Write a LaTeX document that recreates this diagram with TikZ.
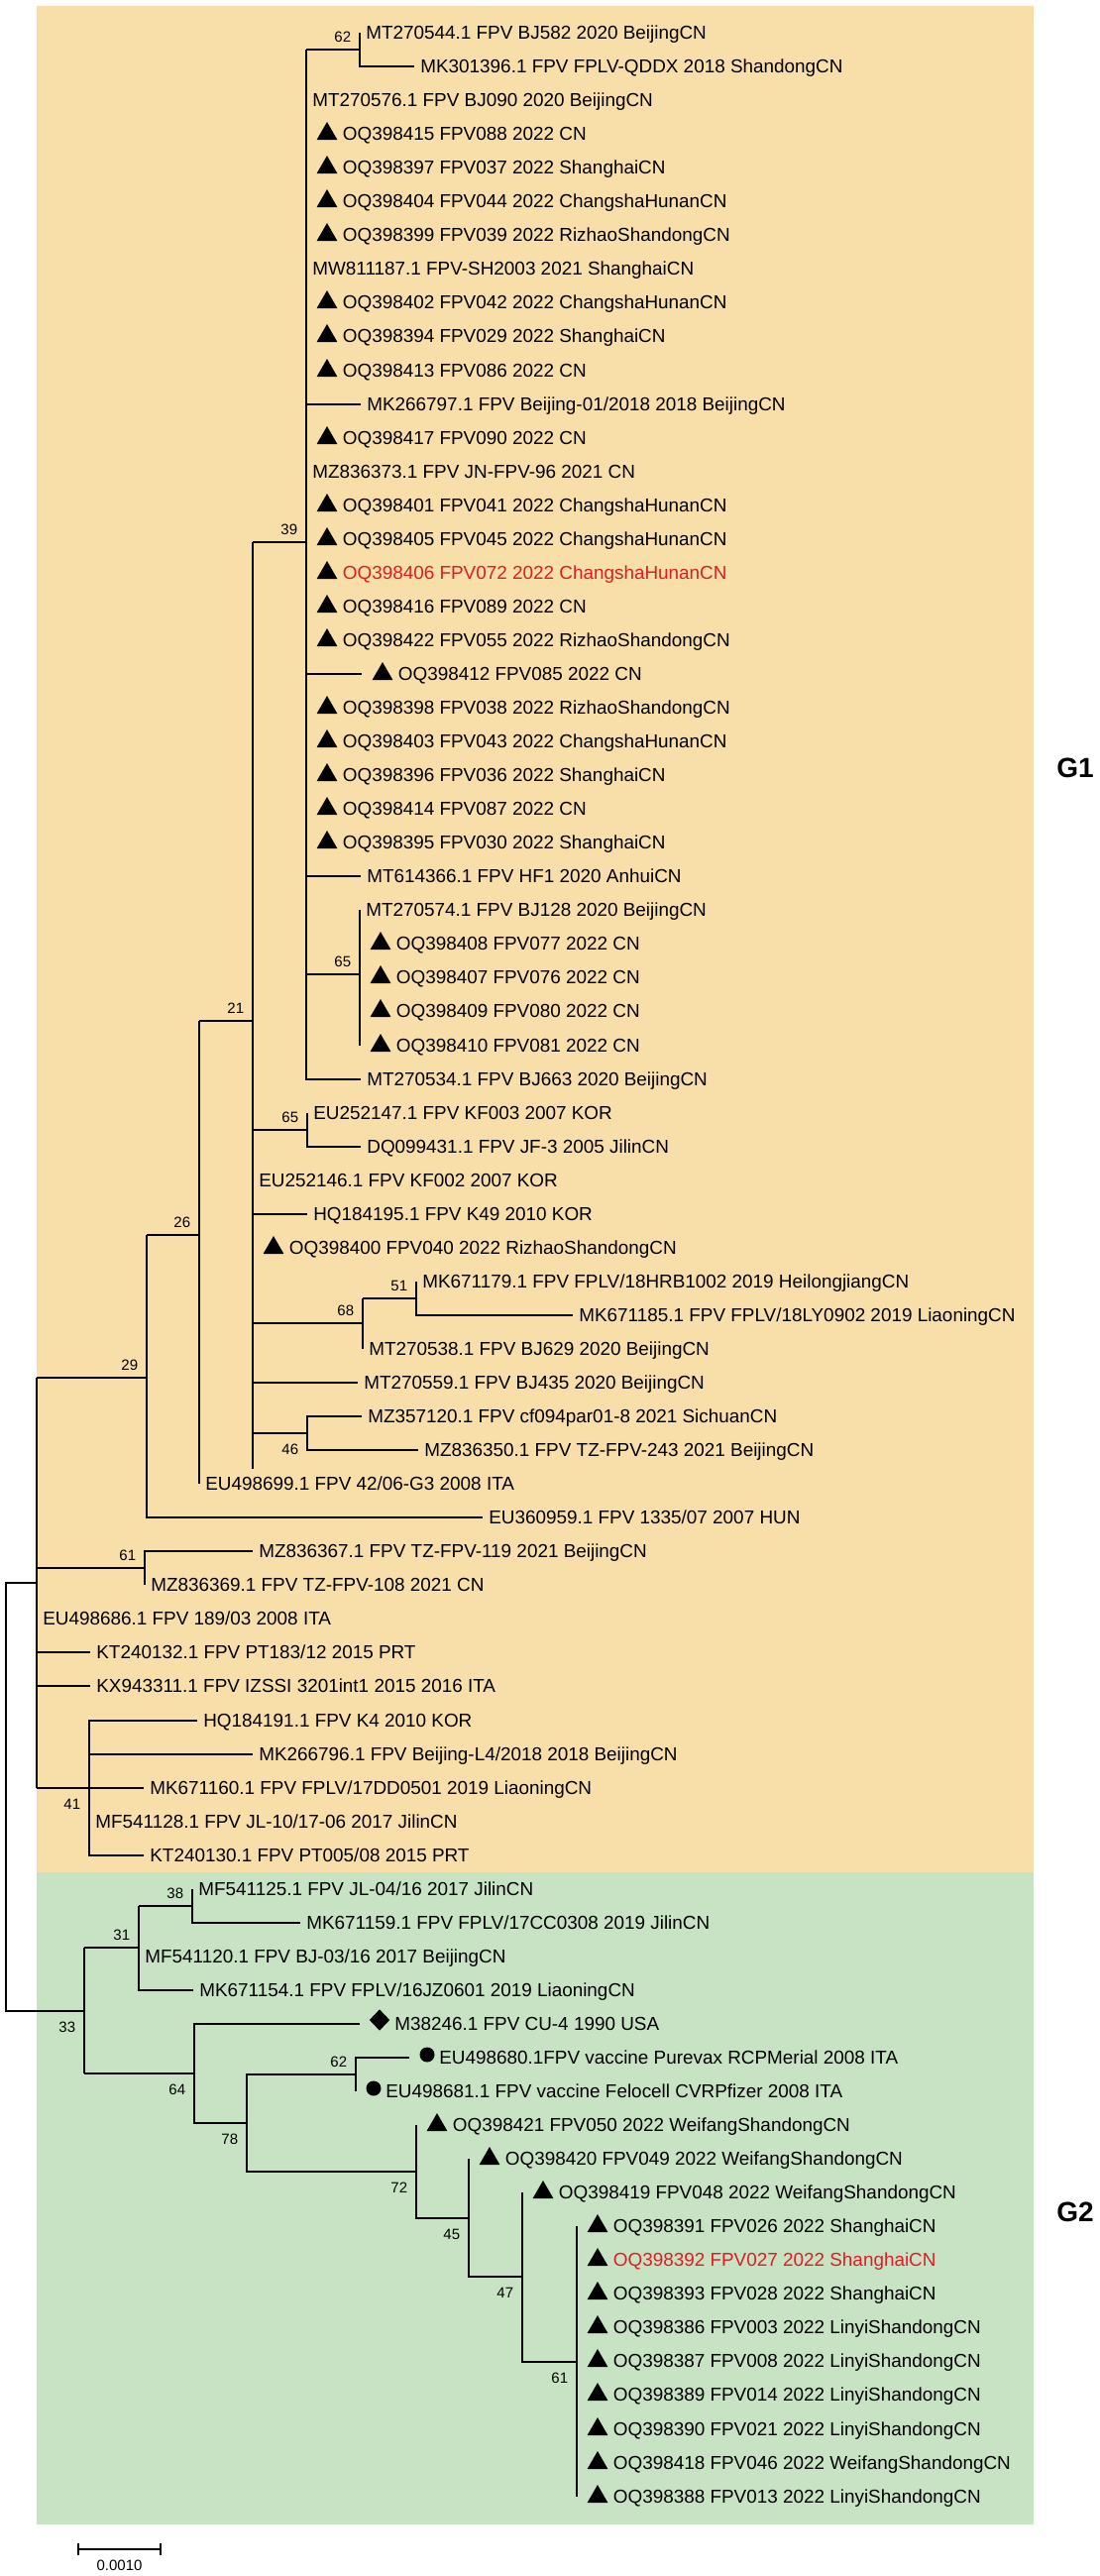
\documentclass[tikz,border=0pt]{standalone}
\usepackage{fontspec}
\setmainfont{Liberation Sans}
\usetikzlibrary{shapes.geometric}
\definecolor{orangebg}{RGB}{248,222,168}
\definecolor{greenbg}{RGB}{200,227,196}
\definecolor{fpvred}{RGB}{222,30,36}
\newcommand{\leaffont}{\fontsize{18.9pt}{21pt}\selectfont}
\newcommand{\bsfont}{\fontsize{15pt}{17pt}\selectfont}
\newcommand{\grpfont}{\fontsize{28pt}{30pt}\selectfont\bfseries}

\begin{document}
\begin{tikzpicture}[
    x=1pt, y=-1pt,
    line width=1.7pt,
    lbl/.style={anchor=base west, inner sep=0pt, xshift=5.5pt, yshift=-6.8pt, font=\leaffont},
    tlbl/.style={lbl, xshift=30.5pt},
    dlbl/.style={lbl, xshift=29pt},
    clbl/.style={lbl, xshift=24pt},
    tri/.style={regular polygon, regular polygon sides=3, fill=black, inner sep=0pt, minimum size=24pt, xshift=21pt},
    dia/.style={diamond, fill=black, inner sep=0pt, minimum width=21pt, minimum height=22pt, xshift=20pt, yshift=4pt},
    dot/.style={circle, fill=black, inner sep=0pt, minimum size=15pt, xshift=18pt, yshift=3pt},
    bsa/.style={anchor=base east, inner sep=0pt, xshift=-8pt, yshift=7.6pt, font=\bsfont},
    bsb/.style={bsa, yshift=-29pt}
  ]
  \useasboundingbox (0,0) rectangle (1110,2599);
  \fill[orangebg] (37,6) rectangle (1043,1889);
  \fill[greenbg] (37,1889) rectangle (1043,2547);

  \coordinate (nA) at (363,50);
  \coordinate (nC) at (309,547);
  \coordinate (nB) at (363,983);
  \coordinate (nK) at (310,1140);
  \coordinate (n51) at (420,1310);
  \coordinate (n68) at (366,1335);
  \coordinate (n46) at (310,1446);
  \coordinate (nD) at (255,1030);
  \coordinate (nDend) at (255,1482);
  \coordinate (nE) at (201,1246);
  \coordinate (n29) at (148,1390);
  \coordinate (n61a) at (146,1582);
  \coordinate (n41) at (90,1804);
  \coordinate (nF) at (37,1597);
  \coordinate (nR) at (6,1813);
  \coordinate (n38) at (194,1923);
  \coordinate (n31) at (140,1965);
  \coordinate (n33) at (85,2029);
  \coordinate (n64) at (196,2092);
  \coordinate (n78) at (249,2142);
  \coordinate (n62) at (359,2093);
  \coordinate (n72) at (420,2191);
  \coordinate (n45) at (473,2238);
  \coordinate (n47) at (527,2297);
  \coordinate (n61) at (582,2383);

  \coordinate (l1) at (363,33);
  \coordinate (l2) at (418,67);
  \coordinate (l3) at (309,101);
  \coordinate (l4) at (309,135);
  \coordinate (l5) at (309,169);
  \coordinate (l6) at (309,203);
  \coordinate (l7) at (309,237);
  \coordinate (l8) at (309,271);
  \coordinate (l9) at (309,305);
  \coordinate (l10) at (309,339);
  \coordinate (l11) at (309,374);
  \coordinate (l12) at (364,408);
  \coordinate (l13) at (309,442);
  \coordinate (l14) at (309,476);
  \coordinate (l15) at (309,510);
  \coordinate (l16) at (309,544);
  \coordinate (l17) at (309,578);
  \coordinate (l18) at (309,612);
  \coordinate (l19) at (309,646);
  \coordinate (l20) at (365,680);
  \coordinate (l21) at (309,714);
  \coordinate (l22) at (309,748);
  \coordinate (l23) at (309,782);
  \coordinate (l24) at (309,816);
  \coordinate (l25) at (309,850);
  \coordinate (l26) at (364,884);
  \coordinate (l27) at (363,918);
  \coordinate (l28) at (363,952);
  \coordinate (l29) at (363,986);
  \coordinate (l30) at (363,1020);
  \coordinate (l31) at (363,1055);
  \coordinate (l32) at (364,1089);
  \coordinate (l33) at (310,1123);
  \coordinate (l34) at (364,1157);
  \coordinate (l35) at (255,1191);
  \coordinate (l36) at (310,1225);
  \coordinate (l37) at (255,1259);
  \coordinate (l38) at (420,1293);
  \coordinate (l39) at (578,1327);
  \coordinate (l40) at (366,1361);
  \coordinate (l41) at (361,1395);
  \coordinate (l42) at (365,1429);
  \coordinate (l43) at (422,1463);
  \coordinate (l44) at (201,1497);
  \coordinate (l45) at (487,1531);
  \coordinate (l46) at (255,1565);
  \coordinate (l47) at (146,1599);
  \coordinate (l48) at (37,1633);
  \coordinate (l49) at (91,1667);
  \coordinate (l50) at (91,1701);
  \coordinate (l51) at (199,1736);
  \coordinate (l52) at (255,1770);
  \coordinate (l53) at (145,1804);
  \coordinate (l54) at (90,1838);
  \coordinate (l55) at (145,1872);
  \coordinate (l56) at (194,1906);
  \coordinate (l57) at (303,1940);
  \coordinate (l58) at (140,1974);
  \coordinate (l59) at (195,2008);
  \coordinate (l60) at (363,2042);
  \coordinate (l61) at (413,2076);
  \coordinate (l62) at (359,2110);
  \coordinate (l63) at (420,2144);
  \coordinate (l64) at (473,2178);
  \coordinate (l65) at (527,2212);
  \coordinate (l66) at (582,2246);
  \coordinate (l67) at (582,2280);
  \coordinate (l68) at (582,2314);
  \coordinate (l69) at (582,2348);
  \coordinate (l70) at (582,2382);
  \coordinate (l71) at (582,2416);
  \coordinate (l72) at (582,2451);
  \coordinate (l73) at (582,2485);
  \coordinate (l74) at (582,2519);

  \draw (nA |- l1) -- (nA |- l2) -- (l2);
  \draw (nC |- nA) -- (nA);
  \draw (nC |- nA) -- (nC |- l32) -- (l32);
  \draw (nC |- l12) -- (l12);
  \draw (nC |- l20) -- (l20);
  \draw (nC |- l26) -- (l26);
  \draw (nC |- nB) -- (nB);
  \draw (nD |- nC) -- (nC);
  \draw (nB |- l27) -- (nB |- l31);
  \draw (nD |- nC) -- (nDend);
  \draw (nD |- nK) -- (nK);
  \draw (nD |- l36) -- (l36);
  \draw (nD |- n68) -- (n68);
  \draw (nD |- l41) -- (l41);
  \draw (nD |- n46) -- (n46);
  \draw (nE |- nD) -- (nD);
  \draw (nK |- l33) -- (nK |- l34) -- (l34);
  \draw (n68 |- n51) -- (n68 |- l40);
  \draw (n68 |- n51) -- (n51);
  \draw (n51 |- l38) -- (n51 |- l39) -- (l39);
  \draw (l42) -- (n46 |- l42) -- (n46 |- l43) -- (l43);
  \draw (nE |- nD) -- (nE |- l44);
  \draw (n29 |- nE) -- (nE);
  \draw (n29 |- nE) -- (n29 |- l45) -- (l45);
  \draw (nF |- n29) -- (n29);
  \draw (l46) -- (n61a |- l46) -- (n61a |- l47);
  \draw (nF |- n61a) -- (n61a);
  \draw (nF |- n29) -- (nF |- n41);
  \draw (nF |- n41) -- (n41);
  \draw (nF |- l49) -- (l49);
  \draw (nF |- l50) -- (l50);
  \draw (l51) -- (n41 |- l51) -- (n41 |- l55) -- (l55);
  \draw (n41 |- l52) -- (l52);
  \draw (n41 |- l53) -- (l53);
  \draw (nF) -- (nR |- nF) -- (nR |- n33) -- (n33);
  \draw (n33 |- n31) -- (n33 |- n64);
  \draw (n33 |- n31) -- (n31);
  \draw (n33 |- n64) -- (n64);
  \draw (n31 |- n38) -- (n31 |- l59) -- (l59);
  \draw (n31 |- n38) -- (n38);
  \draw (n38 |- l56) -- (n38 |- l57) -- (l57);
  \draw (l60) -- (n64 |- l60) -- (n64 |- n78) -- (n78);
  \draw (n62) -- (n78 |- n62) -- (n78 |- n72) -- (n72);
  \draw (l61) -- (n62 |- l61) -- (n62 |- l62);
  \draw (n72 |- l63) -- (n72 |- n45) -- (n45);
  \draw (n45 |- l64) -- (n45 |- n47) -- (n47);
  \draw (n47 |- l65) -- (n47 |- n61) -- (n61);
  \draw (n61 |- l66) -- (n61 |- l74);

  \node[bsa] (b1) at (nA) {62};
  \node[bsa] (b2) at (nC) {39};
  \node[bsa] (b3) at (nB) {65};
  \node[bsa] (b4) at (nD) {21};
  \node[bsa] (b5) at (nK) {65};
  \node[bsa] (b6) at (nE) {26};
  \node[bsa] (b7) at (n51) {51};
  \node[bsa] (b8) at (n68) {68};
  \node[bsb] (b9) at (n46) {46};
  \node[bsa] (b10) at (n29) {29};
  \node[bsa] (b11) at (n61a) {61};
  \node[bsb] (b12) at (n41) {41};
  \node[bsa] (b13) at (n38) {38};
  \node[bsa] (b14) at (n31) {31};
  \node[bsb] (b15) at (n33) {33};
  \node[bsb] (b16) at (n64) {64};
  \node[bsb] (b17) at (n78) {78};
  \node[bsa] (b18) at (n62) {62};
  \node[bsb] (b19) at (n72) {72};
  \node[bsb] (b20) at (n45) {45};
  \node[bsb] (b21) at (n47) {47};
  \node[bsb] (b22) at (n61) {61};

  \node[lbl] (t1) at (l1) {MT270544.1 FPV BJ582 2020 BeijingCN};
  \node[lbl] (t2) at (l2) {MK301396.1 FPV FPLV-QDDX 2018 ShandongCN};
  \node[lbl] (t3) at (l3) {MT270576.1 FPV BJ090 2020 BeijingCN};
  \node[tri] (s4) at (l4) {}; \node[tlbl] (t4) at (l4) {OQ398415 FPV088 2022 CN};
  \node[tri] (s5) at (l5) {}; \node[tlbl] (t5) at (l5) {OQ398397 FPV037 2022 ShanghaiCN};
  \node[tri] (s6) at (l6) {}; \node[tlbl] (t6) at (l6) {OQ398404 FPV044 2022 ChangshaHunanCN};
  \node[tri] (s7) at (l7) {}; \node[tlbl] (t7) at (l7) {OQ398399 FPV039 2022 RizhaoShandongCN};
  \node[lbl] (t8) at (l8) {MW811187.1 FPV-SH2003 2021 ShanghaiCN};
  \node[tri] (s9) at (l9) {}; \node[tlbl] (t9) at (l9) {OQ398402 FPV042 2022 ChangshaHunanCN};
  \node[tri] (s10) at (l10) {}; \node[tlbl] (t10) at (l10) {OQ398394 FPV029 2022 ShanghaiCN};
  \node[tri] (s11) at (l11) {}; \node[tlbl] (t11) at (l11) {OQ398413 FPV086 2022 CN};
  \node[lbl] (t12) at (l12) {MK266797.1 FPV Beijing-01/2018 2018 BeijingCN};
  \node[tri] (s13) at (l13) {}; \node[tlbl] (t13) at (l13) {OQ398417 FPV090 2022 CN};
  \node[lbl] (t14) at (l14) {MZ836373.1 FPV JN-FPV-96 2021 CN};
  \node[tri] (s15) at (l15) {}; \node[tlbl] (t15) at (l15) {OQ398401 FPV041 2022 ChangshaHunanCN};
  \node[tri] (s16) at (l16) {}; \node[tlbl] (t16) at (l16) {OQ398405 FPV045 2022 ChangshaHunanCN};
  \node[tri] (s17) at (l17) {}; \node[tlbl, text=fpvred] (t17) at (l17) {OQ398406 FPV072 2022 ChangshaHunanCN};
  \node[tri] (s18) at (l18) {}; \node[tlbl] (t18) at (l18) {OQ398416 FPV089 2022 CN};
  \node[tri] (s19) at (l19) {}; \node[tlbl] (t19) at (l19) {OQ398422 FPV055 2022 RizhaoShandongCN};
  \node[tri] (s20) at (l20) {}; \node[tlbl] (t20) at (l20) {OQ398412 FPV085 2022 CN};
  \node[tri] (s21) at (l21) {}; \node[tlbl] (t21) at (l21) {OQ398398 FPV038 2022 RizhaoShandongCN};
  \node[tri] (s22) at (l22) {}; \node[tlbl] (t22) at (l22) {OQ398403 FPV043 2022 ChangshaHunanCN};
  \node[tri] (s23) at (l23) {}; \node[tlbl] (t23) at (l23) {OQ398396 FPV036 2022 ShanghaiCN};
  \node[tri] (s24) at (l24) {}; \node[tlbl] (t24) at (l24) {OQ398414 FPV087 2022 CN};
  \node[tri] (s25) at (l25) {}; \node[tlbl] (t25) at (l25) {OQ398395 FPV030 2022 ShanghaiCN};
  \node[lbl] (t26) at (l26) {MT614366.1 FPV HF1 2020 AnhuiCN};
  \node[lbl] (t27) at (l27) {MT270574.1 FPV BJ128 2020 BeijingCN};
  \node[tri] (s28) at (l28) {}; \node[tlbl] (t28) at (l28) {OQ398408 FPV077 2022 CN};
  \node[tri] (s29) at (l29) {}; \node[tlbl] (t29) at (l29) {OQ398407 FPV076 2022 CN};
  \node[tri] (s30) at (l30) {}; \node[tlbl] (t30) at (l30) {OQ398409 FPV080 2022 CN};
  \node[tri] (s31) at (l31) {}; \node[tlbl] (t31) at (l31) {OQ398410 FPV081 2022 CN};
  \node[lbl] (t32) at (l32) {MT270534.1 FPV BJ663 2020 BeijingCN};
  \node[lbl] (t33) at (l33) {EU252147.1 FPV KF003 2007 KOR};
  \node[lbl] (t34) at (l34) {DQ099431.1 FPV JF-3 2005 JilinCN};
  \node[lbl] (t35) at (l35) {EU252146.1 FPV KF002 2007 KOR};
  \node[lbl] (t36) at (l36) {HQ184195.1 FPV K49 2010 KOR};
  \node[tri] (s37) at (l37) {}; \node[tlbl] (t37) at (l37) {OQ398400 FPV040 2022 RizhaoShandongCN};
  \node[lbl] (t38) at (l38) {MK671179.1 FPV FPLV/18HRB1002 2019 HeilongjiangCN};
  \node[lbl] (t39) at (l39) {MK671185.1 FPV FPLV/18LY0902 2019 LiaoningCN};
  \node[lbl] (t40) at (l40) {MT270538.1 FPV BJ629 2020 BeijingCN};
  \node[lbl] (t41) at (l41) {MT270559.1 FPV BJ435 2020 BeijingCN};
  \node[lbl] (t42) at (l42) {MZ357120.1 FPV cf094par01-8 2021 SichuanCN};
  \node[lbl] (t43) at (l43) {MZ836350.1 FPV TZ-FPV-243 2021 BeijingCN};
  \node[lbl] (t44) at (l44) {EU498699.1 FPV 42/06-G3 2008 ITA};
  \node[lbl] (t45) at (l45) {EU360959.1 FPV 1335/07 2007 HUN};
  \node[lbl] (t46) at (l46) {MZ836367.1 FPV TZ-FPV-119 2021 BeijingCN};
  \node[lbl] (t47) at (l47) {MZ836369.1 FPV TZ-FPV-108 2021 CN};
  \node[lbl] (t48) at (l48) {EU498686.1 FPV 189/03 2008 ITA};
  \node[lbl] (t49) at (l49) {KT240132.1 FPV PT183/12 2015 PRT};
  \node[lbl] (t50) at (l50) {KX943311.1 FPV IZSSI 3201int1 2015 2016 ITA};
  \node[lbl] (t51) at (l51) {HQ184191.1 FPV K4 2010 KOR};
  \node[lbl] (t52) at (l52) {MK266796.1 FPV Beijing-L4/2018 2018 BeijingCN};
  \node[lbl] (t53) at (l53) {MK671160.1 FPV FPLV/17DD0501 2019 LiaoningCN};
  \node[lbl] (t54) at (l54) {MF541128.1 FPV JL-10/17-06 2017 JilinCN};
  \node[lbl] (t55) at (l55) {KT240130.1 FPV PT005/08 2015 PRT};
  \node[lbl] (t56) at (l56) {MF541125.1 FPV JL-04/16 2017 JilinCN};
  \node[lbl] (t57) at (l57) {MK671159.1 FPV FPLV/17CC0308 2019 JilinCN};
  \node[lbl] (t58) at (l58) {MF541120.1 FPV BJ-03/16 2017 BeijingCN};
  \node[lbl] (t59) at (l59) {MK671154.1 FPV FPLV/16JZ0601 2019 LiaoningCN};
  \node[dia] (s60) at (l60) {}; \node[dlbl] (t60) at (l60) {M38246.1 FPV CU-4 1990 USA};
  \node[dot] (s61) at (l61) {}; \node[clbl] (t61) at (l61) {EU498680.1FPV vaccine Purevax RCPMerial 2008 ITA};
  \node[dot] (s62) at (l62) {}; \node[clbl] (t62) at (l62) {EU498681.1 FPV vaccine Felocell CVRPfizer 2008 ITA};
  \node[tri] (s63) at (l63) {}; \node[tlbl] (t63) at (l63) {OQ398421 FPV050 2022 WeifangShandongCN};
  \node[tri] (s64) at (l64) {}; \node[tlbl] (t64) at (l64) {OQ398420 FPV049 2022 WeifangShandongCN};
  \node[tri] (s65) at (l65) {}; \node[tlbl] (t65) at (l65) {OQ398419 FPV048 2022 WeifangShandongCN};
  \node[tri] (s66) at (l66) {}; \node[tlbl] (t66) at (l66) {OQ398391 FPV026 2022 ShanghaiCN};
  \node[tri] (s67) at (l67) {}; \node[tlbl, text=fpvred] (t67) at (l67) {OQ398392 FPV027 2022 ShanghaiCN};
  \node[tri] (s68) at (l68) {}; \node[tlbl] (t68) at (l68) {OQ398393 FPV028 2022 ShanghaiCN};
  \node[tri] (s69) at (l69) {}; \node[tlbl] (t69) at (l69) {OQ398386 FPV003 2022 LinyiShandongCN};
  \node[tri] (s70) at (l70) {}; \node[tlbl] (t70) at (l70) {OQ398387 FPV008 2022 LinyiShandongCN};
  \node[tri] (s71) at (l71) {}; \node[tlbl] (t71) at (l71) {OQ398389 FPV014 2022 LinyiShandongCN};
  \node[tri] (s72) at (l72) {}; \node[tlbl] (t72) at (l72) {OQ398390 FPV021 2022 LinyiShandongCN};
  \node[tri] (s73) at (l73) {}; \node[tlbl] (t73) at (l73) {OQ398418 FPV046 2022 WeifangShandongCN};
  \node[tri] (s74) at (l74) {}; \node[tlbl] (t74) at (l74) {OQ398388 FPV013 2022 LinyiShandongCN};

  \node[font=\grpfont, inner sep=0pt] (g1) at (1085,775) {G1};
  \node[font=\grpfont, inner sep=0pt] (g2) at (1085,2232) {G2};

  \coordinate (sbl) at (79,2572);
  \coordinate (sbr) at (162,2572);
  \draw (sbl) -- (sbr);
  \draw ([yshift=6pt]sbl) -- ([yshift=-6pt]sbl);
  \draw ([yshift=6pt]sbr) -- ([yshift=-6pt]sbr);
  \node[anchor=base, inner sep=0pt, font=\bsfont] (sbt) at (120.5,2593) {0.0010};
\end{tikzpicture}
\end{document}
